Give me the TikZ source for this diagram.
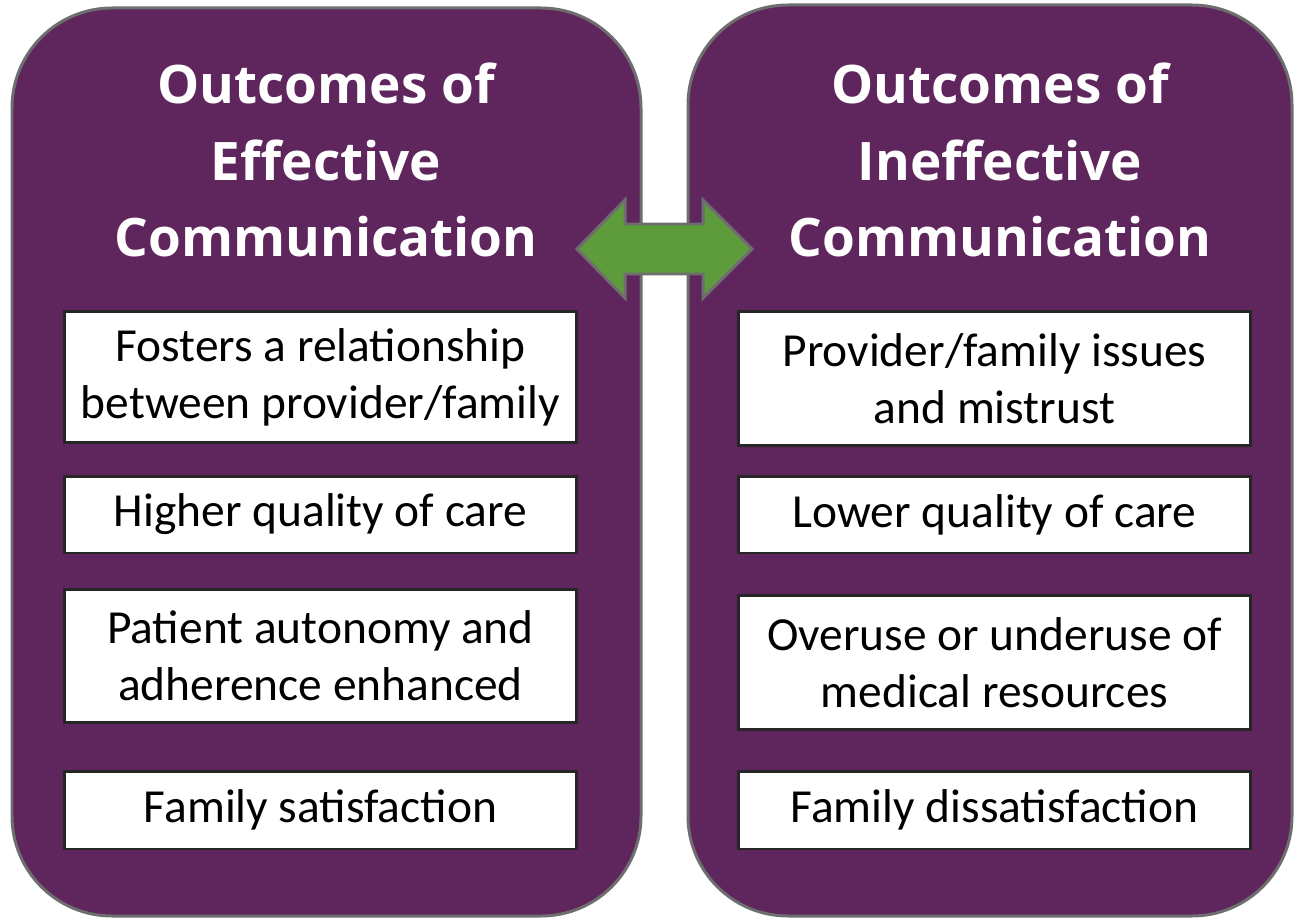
\documentclass[tikz,border=0pt]{standalone}
\usepackage{fontspec}
\setmainfont{Carlito}
\newfontfamily\headfont{Open Sans}
\usepackage{tikz}
\usetikzlibrary{positioning}

\definecolor{panelpurple}{HTML}{5F265D}
\definecolor{rimgray}{HTML}{6E6E6E}
\definecolor{arrowgreen}{HTML}{5E9B3B}
\definecolor{boxrim}{HTML}{262626}

\begin{document}
\begin{tikzpicture}[
		x=0.02cm, y=-0.02cm
		,panel/.style={draw=rimgray, fill=panelpurple, line width=1.7pt, rounded corners=2cm}
		,heading/.style={text=white, align=center, font=\headfont\bfseries\fontsize{30.2}{43.8}\selectfont}
		,outcome/.style={draw=boxrim, fill=white, line width=1.7pt, align=center,
			minimum width=10.26cm, inner sep=0pt, font=\fontsize{27}{32.4}\selectfont}
		,twoway/.style={draw=rimgray, fill=arrowgreen, line width=1.7pt, line join=miter}
	]
		\useasboundingbox (0,0) rectangle (1294,918);

		% the two panels
		\draw[panel] (12,8) rectangle (641,916);
		\draw[panel] (688,5) rectangle (1292,916);

		\node[heading] (effTitle) at (326,160) {Outcomes of\\Effective\\Communication};
		\node[heading] (ineffTitle) at (1000,160) {Outcomes of\\Ineffective\\Communication};

		% effective side
		\node[outcome, minimum height=2.64cm] (effA) at (320.5,377) {Fosters a relationship\\between provider/family};
		\node[outcome, minimum height=1.54cm] (effB) at (320.5,514.5) {Higher quality of care};
		\node[outcome, minimum height=2.68cm] (effC) at (320.5,656) {Patient autonomy and\\adherence enhanced};
		\node[outcome, minimum height=1.56cm] (effD) at (320.5,810) {Family satisfaction};

		% ineffective side
		\node[outcome, minimum height=2.7cm] (ineffA) at (994.5,378.5) {Provider/family issues\\and mistrust};
		\node[outcome, minimum height=1.54cm] (ineffB) at (994.5,514.5) {Lower quality of care};
		\node[outcome, minimum height=2.7cm] (ineffC) at (994.5,662.5) {Overuse or underuse of\\medical resources};
		\node[outcome, minimum height=1.56cm] (ineffD) at (994.5,810) {Family dissatisfaction};

		% double arrow between the panels
		\coordinate (tipL) at (577,249);
		\coordinate (tipR) at (752,249);
		\draw[twoway] (tipL) -- (625,200) -- (625,224) -- (703,224) -- (703,200)
			-- (tipR) -- (703,298) -- (703,274) -- (625,274) -- (625,298) -- cycle;
	\end{tikzpicture}
\end{document}
